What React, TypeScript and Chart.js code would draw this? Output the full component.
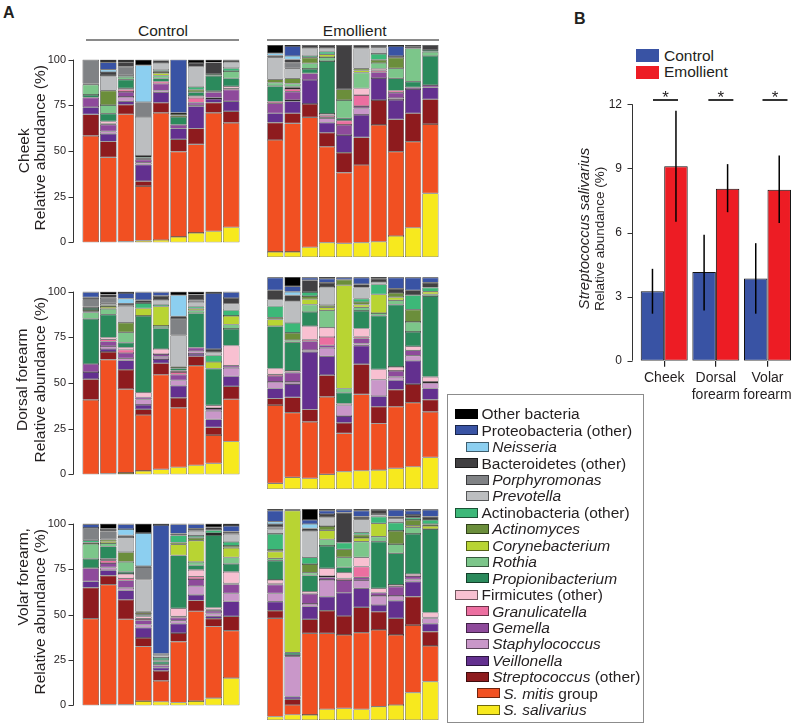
import React, { useEffect, useRef } from "react";
import { Chart, registerables } from "chart.js";

Chart.register(...registerables);

const FONT = "'Liberation Sans', Arial, Helvetica, sans-serif";
const INK = "#231f20";
Chart.defaults.font.family = FONT;

// ---------- Panel A data (each bar: values bottom -> top, in the order of `taxa`) ----------
const taxa = [
  "S. salivarius", "S. mitis group", "Streptococcus (other)", "Veillonella", "Staphylococcus",
  "Gemella", "Granulicatella", "Firmicutes (other)", "Propionibacterium", "Rothia",
  "Corynebacterium", "Actinomyces", "Actinobacteria (other)", "Prevotella", "Porphyromonas",
  "Bacteroidetes (other)", "Neisseria", "Proteobacteria (other)", "Other bacteria",
];
const taxaColors = [
  "#f7e91e", "#f15022", "#8e1b1e", "#63308f", "#c997c9",
  "#8e4a9b", "#ec6fa0", "#f8c0d1", "#2b8a5c", "#7cc68a",
  "#b8d433", "#6b8e3b", "#3cb878", "#bcbec0", "#808285",
  "#414042", "#8ccff0", "#3953a4", "#000000",
];

const cheekControl = [
  [0, 58.3, 11.7, 4, 0, 5.2, 0, 0, 1.5, 5.6, 0, 0, 0.6, 0, 13.1, 0, 0, 0, 0],
  [0, 46.5, 8.7, 4.2, 1.3, 3.7, 0.5, 1.3, 4.2, 4.7, 0, 7.9, 0, 7.9, 0.7, 1.6, 1.3, 4.0, 1.5],
  [0.5, 69.6, 5.2, 1.9, 2.4, 2.7, 1.2, 0.8, 4.7, 1.6, 0, 0, 0.8, 0, 4.7, 2.4, 0, 0, 1.5],
  [1.0, 29.8, 2.7, 9.1, 1.0, 1.6, 0.6, 0, 0.8, 0, 0, 0, 0.7, 21.3, 8.1, 0, 20.2, 0, 3.1],
  [1.3, 69.6, 5.5, 5.7, 1.0, 3.7, 1.2, 0, 1.7, 1.6, 1.3, 0.8, 0.8, 3.8, 0, 1.5, 0, 0, 0.5],
  [3.0, 46.7, 6.7, 5.9, 0, 2.0, 0, 0, 4.3, 0, 0.8, 0.8, 0.7, 0, 0, 0, 0, 29.1, 0],
  [5.2, 48.4, 8.7, 12.2, 0.5, 1.5, 2.5, 1.0, 2.2, 0, 0, 1.3, 1.6, 11.0, 0, 2.1, 0, 0, 1.8],
  [6.1, 64.8, 5.6, 2.0, 0.6, 3.1, 0.5, 0, 8.4, 1.0, 0, 0, 0, 0, 0, 6.3, 0, 0, 1.6],
  [8.3, 57.1, 6.3, 5.5, 0, 6.3, 0.8, 1.1, 4.4, 3.9, 0, 0, 1.6, 3.4, 0, 0.7, 0, 0.6, 0],
];
const cheekEmollient = [
  [2.4, 52.8, 8.2, 4.4, 0, 4.7, 0.8, 0, 7.3, 1.6, 0, 1.6, 0, 10.4, 0, 0.8, 1.1, 0, 3.9],
  [2.4, 60.6, 4.8, 5.7, 0.5, 4.0, 1.3, 0.5, 0.5, 1.5, 0, 2.5, 0, 4.7, 2.6, 1.6, 1.6, 4.7, 0.5],
  [4.6, 61.3, 6.3, 11.3, 0, 3.1, 0, 0, 2.1, 2.7, 0, 2.6, 0.8, 3.7, 0, 1.5, 0, 0, 0],
  [6.8, 45.2, 6.6, 4.8, 2.0, 0.5, 0.8, 0.8, 24.9, 1.9, 1.3, 0, 1.3, 1.6, 0, 1.5, 0, 0, 0],
  [6.4, 33.4, 9.4, 8.3, 0, 4.8, 2.0, 0, 1.1, 8.6, 0, 5.1, 0, 0, 0, 20.9, 0, 0, 0],
  [6.8, 36.6, 13.0, 10.6, 3.2, 1.0, 5.2, 3.2, 0, 7.4, 1.0, 1.0, 0, 9.5, 0, 1.5, 0, 0, 0],
  [7.2, 55.1, 11.7, 10.4, 0, 2.8, 0.8, 0.8, 0, 2.7, 0, 1.5, 2.8, 3.1, 0, 1.1, 0, 0, 0],
  [9.9, 39.8, 15.2, 9.2, 0.8, 2.6, 1.0, 0, 5.8, 4.7, 0, 5.0, 0, 0, 0, 0.8, 0, 4.7, 0.5],
  [13.8, 40.6, 13.4, 11.4, 0, 0.8, 0, 0, 2.7, 15.7, 0, 0, 0, 0, 0, 0.8, 0, 0, 0.8],
  [30.0, 32.7, 11.7, 5.6, 0, 1.1, 0, 0, 13.7, 2.0, 0, 0, 0.8, 0, 0, 2.4, 0, 0, 0],
];
const dorsalControl = [
  [0, 40.8, 11.3, 3.9, 0, 4.4, 0, 0, 24.7, 3.5, 0.6, 0.8, 1.0, 0.8, 4.0, 1.1, 0, 2.8, 0.3],
  [0.5, 62.3, 4.2, 1.6, 1.6, 2.5, 1.2, 1.0, 12.5, 3.2, 1.0, 1.0, 0, 1.0, 3.0, 1.8, 0, 0, 1.6],
  [0.8, 45.8, 10.7, 5.0, 1.2, 2.9, 1.8, 1.2, 2.7, 5.6, 0, 5.3, 0, 9.2, 0, 1.2, 2.8, 3.0, 0.8],
  [1.9, 30.6, 3.1, 2.4, 3.0, 1.2, 0, 2.5, 42.0, 0, 4.2, 0, 2.8, 0, 0, 1.6, 0, 4.4, 0.3],
  [2.7, 51.8, 6.3, 2.3, 1.2, 1.5, 0, 2.8, 11.4, 1.2, 10.7, 0, 1.0, 2.4, 0, 2.4, 0, 2.0, 0.3],
  [3.9, 32.5, 5.5, 6.6, 3.0, 3.0, 1.5, 0.8, 1.3, 0, 0, 0.8, 0, 17.1, 9.0, 1.5, 11.5, 0, 2.0],
  [5.0, 54.5, 5.2, 1.2, 1.5, 2.0, 0, 0, 18.8, 1.5, 1.0, 0, 1.1, 2.5, 1.0, 3.1, 0, 0, 1.6],
  [6.0, 15.5, 4.2, 4.4, 4.7, 1.0, 0.5, 1.5, 20.1, 0, 3.6, 0, 3.6, 1.6, 0, 1.9, 0, 30.6, 0.8],
  [18.0, 23.1, 7.1, 5.5, 4.6, 1.2, 0, 11.0, 9.1, 2.4, 4.7, 0, 3.1, 3.6, 0, 3.1, 0, 3.2, 0.3],
];
const dorsalEmollient = [
  [2.7, 36.9, 3.1, 4.7, 3.1, 2.8, 0.8, 2.7, 20.0, 0, 3.2, 0.8, 5.4, 3.1, 0, 4.4, 0, 6.0, 0.3],
  [5.5, 30.5, 7.2, 6.3, 1.0, 4.4, 0, 0.8, 13.5, 1.0, 0, 3.4, 4.7, 10.4, 0, 2.7, 1.6, 2.6, 4.4],
  [5.0, 26.7, 5.8, 27.2, 0.8, 4.2, 0.8, 6.3, 6.7, 3.5, 2.5, 1.5, 1.9, 0, 0, 5.6, 0, 1.2, 0.3],
  [6.9, 36.6, 10.2, 8.9, 4.0, 1.2, 3.9, 4.4, 0, 8.2, 1.4, 1.0, 0, 8.6, 0, 2.0, 0, 1.9, 0.8],
  [8.2, 18.0, 5.0, 3.2, 5.1, 0, 0, 0.8, 5.1, 2.0, 48.7, 2.6, 0, 0, 0, 0, 0, 1.0, 0.3],
  [8.6, 36.0, 14.3, 8.7, 1.0, 2.4, 0.8, 3.9, 8.3, 1.7, 1.3, 1.2, 1.6, 5.2, 0, 1.6, 0, 3.1, 0.3],
  [8.9, 22.0, 7.9, 5.0, 7.8, 0, 0, 4.8, 25.4, 1.2, 8.8, 0, 4.7, 1.2, 0, 1.5, 0, 0, 0.8],
  [9.7, 29.1, 8.1, 4.4, 1.6, 2.8, 0, 1.9, 29.4, 2.0, 1.5, 2.0, 0, 0, 0, 2.0, 0, 5.2, 0.3],
  [10.5, 30.2, 8.8, 11.0, 2.4, 2.5, 0, 1.9, 6.8, 4.7, 0, 5.8, 6.8, 0, 0, 2.3, 0, 6.0, 0.3],
  [14.9, 21.5, 5.8, 5.2, 2.6, 0.5, 0, 2.4, 38.1, 0.8, 1.3, 0, 1.9, 0, 0, 2.3, 0, 2.4, 0.3],
];
const volarControl = [
  [0, 47.7, 17.1, 3.4, 0, 7.3, 0, 0, 5.1, 8.2, 0, 0.8, 1.2, 0, 6.8, 0, 0, 2.0, 0.4],
  [0.5, 65.9, 5.0, 3.0, 1.5, 2.4, 1.5, 0.8, 6.8, 1.9, 1.0, 1.0, 0, 0, 4.4, 1.4, 0, 0, 2.9],
  [0.5, 46.9, 10.7, 5.1, 1.5, 4.0, 1.2, 2.4, 1.2, 5.5, 0, 5.3, 0, 8.3, 0, 0.9, 3.5, 2.5, 0.5],
  [2.4, 30.0, 4.7, 5.6, 1.8, 2.4, 0.8, 1.2, 0.7, 0.6, 0.8, 0.8, 0, 17.4, 6.9, 0.5, 18.2, 0, 5.2],
  [2.0, 11.5, 5.5, 1.8, 0, 1.0, 0, 0.8, 1.5, 0, 0, 0.8, 1.2, 1.3, 1.0, 0, 0, 70.8, 0.8],
  [1.6, 33.5, 4.7, 5.2, 1.6, 1.6, 0.8, 4.4, 29.1, 0, 6.1, 1.0, 3.9, 0, 0, 1.0, 0, 5.0, 0.5],
  [2.4, 49.4, 5.9, 3.1, 4.8, 3.9, 1.3, 3.8, 2.5, 1.9, 11.6, 1.6, 1.0, 2.8, 0, 1.2, 0, 2.3, 0.5],
  [4.0, 39.4, 4.3, 1.3, 1.6, 1.4, 0.7, 1.0, 40.0, 0, 0.6, 0.5, 1.6, 0, 0, 1.6, 0, 0, 2.0],
  [15.0, 26.1, 7.9, 8.2, 4.4, 4.9, 0.6, 6.4, 4.4, 3.5, 5.3, 1.0, 2.3, 4.4, 0, 1.2, 0, 3.1, 1.3],
];
const volarEmollient = [
  [1.6, 46.6, 3.6, 4.3, 3.9, 4.2, 0.6, 1.6, 9.1, 1.1, 3.2, 0.8, 7.6, 2.2, 1.0, 1.5, 1.1, 5.2, 0.8],
  [2.5, 4.6, 2.7, 1.3, 19.1, 0.6, 0, 0, 1.1, 0, 67.3, 0, 0.5, 0, 0, 0, 0, 0, 0.3],
  [2.4, 38.7, 6.6, 6.1, 1.2, 4.8, 0, 1.0, 7.7, 1.3, 0, 4.1, 3.2, 12.4, 0, 1.3, 2.1, 1.9, 5.2],
  [5.1, 36.0, 10.7, 6.7, 7.9, 1.3, 0.5, 3.7, 10.6, 3.1, 4.3, 2.0, 0, 4.1, 0, 1.6, 0, 1.6, 0.8],
  [5.5, 34.8, 9.0, 11.0, 0, 6.0, 0.8, 2.7, 2.6, 4.7, 0, 3.8, 3.1, 0, 0, 14.3, 0, 1.3, 0.4],
  [5.1, 36.3, 12.0, 9.0, 3.9, 1.3, 5.1, 4.4, 0, 7.4, 1.8, 1.5, 1.0, 6.3, 0, 1.3, 0, 2.8, 0.8],
  [6.3, 36.4, 8.6, 3.2, 4.3, 1.5, 0, 2.1, 22.1, 2.4, 6.3, 0, 3.2, 1.2, 0, 2.0, 0, 0, 0.4],
  [7.1, 33.2, 7.9, 8.4, 2.2, 4.4, 0, 0.8, 15.0, 4.4, 0, 6.2, 3.9, 1.9, 0, 1.0, 0, 3.2, 0.4],
  [13.0, 32.0, 13.5, 7.1, 1.0, 1.6, 0, 1.0, 19.0, 3.1, 0.8, 2.7, 1.1, 0, 0, 1.3, 0, 2.0, 0.8],
  [18.2, 16.9, 6.8, 3.8, 2.4, 0.6, 0, 2.2, 39.6, 0, 1.5, 0.8, 2.0, 0, 0, 1.6, 0, 3.2, 0.4],
];
const abundanceTicks = [0, 25, 50, 75, 100];

// Legend (top -> bottom): italic part, plain part, indent level
const legendItalic = ["", "", "Neisseria", "", "Porphyromonas", "Prevotella", "", "Actinomyces", "Corynebacterium", "Rothia", "Propionibacterium", "", "Granulicatella", "Gemella", "Staphylococcus", "Veillonella", "Streptococcus", "S. mitis", "S. salivarius"];
const legendPlain = ["Other bacteria", "Proteobacteria (other)", "", "Bacteroidetes (other)", "", "", "Actinobacteria (other)", "", "", "", "", "Firmicutes (other)", "", "", "", "", " (other)", " group", ""];
const legendLevel = [0, 0, 1, 0, 1, 1, 0, 1, 1, 1, 1, 0, 1, 1, 1, 1, 1, 2, 2];

// ---------- Panel B data ----------
const siteLabels = [["Cheek"], ["Dorsal", "forearm"], ["Volar", "forearm"]];
const groupNames = ["Control", "Emollient"];
const groupColors = ["#3953a4", "#ed1c24"];
const controlMeans = [3.25, 4.15, 3.85];
const controlHigh = [4.3, 5.9, 5.5];
const controlLow = [2.2, 2.35, 2.2];
const emollientMeans = [9.1, 8.05, 8.0];
const emollientHigh = [11.7, 9.2, 9.6];
const emollientLow = [6.5, 6.95, 6.45];
const significance = ["*", "*", "*"];
const salivariusTicks = [0, 3, 6, 9, 12];

// ---------- helpers ----------
function axisPlugin(gap: number, tick: number, values: number[]) {
  return {
    id: "offsetAxis",
    afterDraw(chart: any) {
      const { ctx, chartArea, scales } = chart;
      const y = scales.y;
      const x = Math.round(chartArea.left - gap) + 0.5;
      ctx.save();
      ctx.strokeStyle = "#333";
      ctx.lineWidth = 1;
      ctx.beginPath();
      ctx.moveTo(x, y.getPixelForValue(values[values.length - 1]));
      ctx.lineTo(x, y.getPixelForValue(values[0]));
      values.forEach((v) => {
        const py = Math.round(y.getPixelForValue(v)) + 0.5;
        ctx.moveTo(x - tick, py);
        ctx.lineTo(x, py);
      });
      ctx.stroke();
      ctx.restore();
    },
  };
}

function stackConfig(bars: number[][], withAxis: boolean, padLeft: number, padRight: number, axisWidth: number) {
  return {
    type: "bar",
    data: {
      labels: bars.map((_, i) => `${i + 1}`),
      datasets: taxa.map((name, k) => ({
        label: name,
        data: bars.map((b) => (b[k] > 0 ? b[k] : null)),
        backgroundColor: taxaColors[k],
        borderColor: "#2a2a2a",
        borderWidth: 0.6,
        borderSkipped: false,
        barPercentage: 0.94,
        categoryPercentage: 1,
      })),
    },
    options: {
      responsive: false,
      animation: false,
      events: [],
      layout: { padding: { left: padLeft, right: padRight, top: 8, bottom: 8 } },
      plugins: { legend: { display: false }, tooltip: { enabled: false } },
      scales: {
        x: { stacked: true, display: false },
        y: {
          stacked: true,
          min: 0,
          max: 100,
          display: withAxis,
          afterBuildTicks: (s: any) => { s.ticks = abundanceTicks.map((v) => ({ value: v })); },
          ticks: { padding: 16, color: INK, font: { size: 11 } },
          grid: { display: false, drawTicks: false, tickLength: 0 },
          border: { display: false },
          afterFit: (s: any) => { s.width = axisWidth; },
        },
      },
    },
    plugins: withAxis ? [axisPlugin(9, 5, abundanceTicks)] : [],
  };
}

const errorBarPlugin = {
  id: "errorBars",
  afterDatasetsDraw(chart: any) {
    const { ctx, scales } = chart;
    const y = scales.y;
    ctx.save();
    ctx.strokeStyle = "#000";
    ctx.lineWidth = 1.5;
    chart.data.datasets.forEach((ds: any, i: number) => {
      chart.getDatasetMeta(i).data.forEach((bar: any, j: number) => {
        ctx.beginPath();
        ctx.moveTo(bar.x, y.getPixelForValue(ds.errHigh[j]));
        ctx.lineTo(bar.x, y.getPixelForValue(ds.errLow[j]));
        ctx.stroke();
      });
    });
    ctx.restore();
  },
};

const sigShift = [1.3, 5, 7.5];
const sigPlugin = {
  id: "significance",
  afterDraw(chart: any) {
    const { ctx, scales } = chart;
    const x = scales.x;
    const lineY = scales.y.top - 4.3;
    ctx.save();
    significance.forEach((mark, i) => {
      const cx = x.getPixelForValue(i) + sigShift[i];
      ctx.strokeStyle = "#333";
      ctx.lineWidth = 2;
      ctx.beginPath();
      ctx.moveTo(cx - 12.5, lineY);
      ctx.lineTo(cx + 12.5, lineY);
      ctx.stroke();
      ctx.fillStyle = INK;
      ctx.font = `17px ${FONT}`;
      ctx.textAlign = "center";
      ctx.textBaseline = "alphabetic";
      ctx.fillText(mark, cx, lineY + 3.2);
    });
    ctx.restore();
  },
};

function salivariusConfig() {
  return {
    type: "bar",
    data: {
      labels: siteLabels,
      datasets: [
        { label: groupNames[0], data: controlMeans, errHigh: controlHigh, errLow: controlLow, backgroundColor: groupColors[0] },
        { label: groupNames[1], data: emollientMeans, errHigh: emollientHigh, errLow: emollientLow, backgroundColor: groupColors[1] },
      ].map((d) => ({ ...d, borderColor: "#111", borderWidth: 1, borderSkipped: false, categoryPercentage: 0.91, barPercentage: 1 })),
    },
    options: {
      responsive: false,
      animation: false,
      events: [],
      layout: { padding: { left: 0, right: 6.7, top: 24.3, bottom: 0 } },
      plugins: { legend: { display: false }, tooltip: { enabled: false } },
      scales: {
        x: {
          grid: { display: true, drawOnChartArea: false, drawTicks: true, tickLength: 6, color: "#222", lineWidth: 1.2, offset: false },
          border: { display: false },
          ticks: { color: INK, font: { size: 14 }, padding: 3, maxRotation: 0, autoSkip: false },
          afterFit: (s: any) => { s.height = 59.3; },
        },
        y: {
          min: 0,
          max: 12,
          afterBuildTicks: (s: any) => { s.ticks = salivariusTicks.map((v) => ({ value: v })); },
          ticks: { padding: 16.4, color: INK, font: { size: 12 } },
          grid: { display: false, drawTicks: false, tickLength: 0 },
          border: { display: false },
          afterFit: (s: any) => { s.width = 78.4; },
        },
      },
    },
    plugins: [axisPlugin(6.4, 5, salivariusTicks), errorBarPlugin, sigPlugin],
  };
}

function ChartCanvas({ left, top, width, height, config }: { left: number; top: number; width: number; height: number; config: () => any }) {
  const ref = useRef<HTMLCanvasElement | null>(null);
  useEffect(() => {
    if (!ref.current) return;
    const chart = new Chart(ref.current, config());
    return () => chart.destroy();
  }, []);
  return <canvas ref={ref} width={width} height={height} style={{ position: "absolute", left, top, width, height }} />;
}

type LabelProps = { x: number; y: number; size: number; align?: "left" | "center"; weight?: number; rotate?: boolean; children: React.ReactNode };
function Label({ x, y, size, align = "left", weight = 400, rotate = false, children }: LabelProps) {
  const w = 400;
  const style: React.CSSProperties = {
    position: "absolute",
    top: y - size / 2,
    left: align === "left" ? x : x - w / 2,
    width: align === "left" ? undefined : w,
    height: size,
    lineHeight: `${size}px`,
    fontSize: size,
    fontWeight: weight,
    fontFamily: FONT,
    color: INK,
    whiteSpace: "nowrap",
    textAlign: align,
    transform: rotate ? "rotate(-90deg)" : undefined,
    transformOrigin: "50% 50%",
  };
  return <div style={style}>{children}</div>;
}

const rows = [
  { top: 45, bottom: 257, control: cheekControl, emollient: cheekEmollient, titles: [{ t: "Cheek", x: 24, y: 150.5 }, { t: "Relative abundance (%)", x: 39.5, y: 148 }] },
  { top: 277, bottom: 489, control: dorsalControl, emollient: dorsalEmollient, titles: [{ t: "Dorsal forearm", x: 22, y: 380 }, { t: "Relative abundance (%)", x: 39.5, y: 380 }] },
  { top: 509, bottom: 720, control: volarControl, emollient: volarEmollient, titles: [{ t: "Volar forearm,", x: 22.5, y: 576.5 }, { t: "Relative abundance (%)", x: 39.5, y: 611.5 }] },
];

export default function App() {
  const legendX = [455, 465.7, 476.7];
  return (
    <div style={{ position: "absolute", left: 0, top: 0, width: 800, height: 726, background: "#fff", overflow: "hidden", fontFamily: FONT }}>
      <Label x={3} y={12.5} size={16} weight={700}>A</Label>
      <Label x={574} y={18.5} size={16} weight={700}>B</Label>

      <Label x={163} y={30.8} size={15.5} align="center">Control</Label>
      <Label x={354.7} y={30.5} size={15.5} align="center">Emollient</Label>
      <div style={{ position: "absolute", left: 86, top: 39.4, width: 153, height: 1.3, background: "#8a8a8a" }} />
      <div style={{ position: "absolute", left: 266.7, top: 39.4, width: 172.3, height: 1.3, background: "#8a8a8a" }} />

      {rows.map((r, i) => (
        <React.Fragment key={i}>
          <ChartCanvas left={0} top={r.top - 8} width={243} height={r.bottom - r.top + 16} config={() => stackConfig(r.control, true, 0, 3, 82)} />
          <ChartCanvas left={262} top={r.top - 8} width={180} height={r.bottom - r.top + 16} config={() => stackConfig(r.emollient, false, 4.7, 3, 0)} />
          {r.titles.map((tt, j) => (
            <Label key={j} x={tt.x} y={tt.y} size={15.5} align="center" rotate>{tt.t}</Label>
          ))}
        </React.Fragment>
      ))}

      {/* Panel B */}
      <ChartCanvas left={560} top={80} width={240} height={340} config={salivariusConfig} />
      {groupNames.map((g, i) => (
        <React.Fragment key={g}>
          <div style={{ position: "absolute", left: 636, top: 49 + i * 17, width: 23, height: 13, background: groupColors[i] }} />
          <Label x={664} y={55.5 + i * 16.5} size={15.5}>{g}</Label>
        </React.Fragment>
      ))}
      <Label x={583} y={228} size={15} align="center" rotate><i>Streptococcus salivarius</i></Label>
      <Label x={600} y={239} size={13.5} align="center" rotate>Relative abundance (%)</Label>

      {/* Legend for panel A */}
      <div style={{ position: "absolute", left: 447, top: 394, width: 197, height: 329, boxSizing: "border-box", border: "1px solid #8c8c8c" }} />
      {legendLevel.map((lvl, i) => {
        const cy = 414 + i * 16.44;
        const color = taxaColors[taxaColors.length - 1 - i];
        return (
          <React.Fragment key={i}>
            <div style={{ position: "absolute", left: legendX[lvl], top: cy - 5, width: 23, height: 10, background: color, boxSizing: "border-box", border: "0.8px solid rgba(0,0,0,0.55)" }} />
            <Label x={legendX[lvl] + 26.5} y={cy} size={15.5}>
              {legendItalic[i] ? <i>{legendItalic[i]}</i> : null}
              {legendPlain[i]}
            </Label>
          </React.Fragment>
        );
      })}
    </div>
  );
}
